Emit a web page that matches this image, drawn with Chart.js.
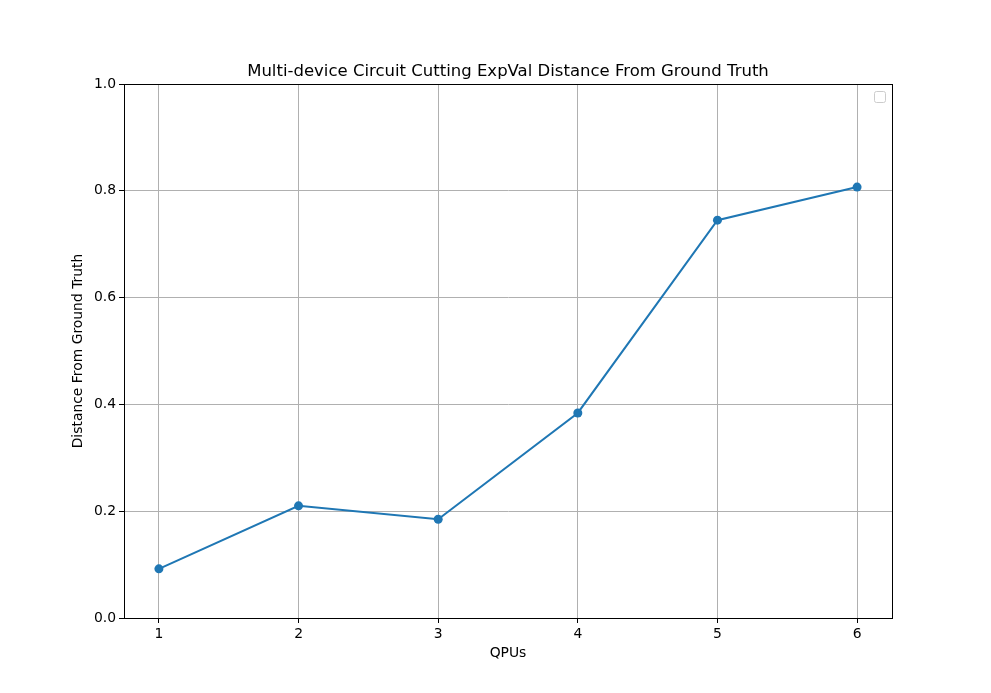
<!DOCTYPE html>
<html>
<head>
<meta charset="utf-8">
<script src="https://cdn.jsdelivr.net/npm/chart.js"></script>
<style>
  html, body { margin: 0; padding: 0; background: #fff; }
  #wrap { width: 991px; height: 693px; }
</style>
</head>
<body>
<div id="wrap"><canvas id="chart" width="991" height="693"></canvas></div>
<script>
// values
const qpus = [1, 2, 3, 4, 5, 6];
const distances = [0.092, 0.21, 0.185, 0.384, 0.745, 0.807];
const yTicks = [0, 0.2, 0.4, 0.6, 0.8, 1.0];

const titleText = 'Multi-device Circuit Cutting ExpVal Distance From Ground Truth';
const FONT = 'DejaVu Sans';

// title, full axes box and the empty legend frame
const frame = {
    id: 'frame',
    afterDraw(chart) {
        const { ctx, chartArea: a } = chart;
        ctx.save();
        ctx.strokeStyle = '#000';
        ctx.lineWidth = 1;
        ctx.strokeRect(Math.round(a.left) + 0.5, Math.round(a.top) + 0.5,
            Math.round(a.right - a.left), Math.round(a.bottom - a.top));

        ctx.fillStyle = '#000';
        ctx.font = '16.5px "' + FONT + '"';
        ctx.textAlign = 'center';
        ctx.textBaseline = 'alphabetic';
        ctx.fillText(titleText, (a.left + a.right) / 2, a.top - 8);

        // matplotlib draws an empty legend frame when no labels exist
        const x = a.right - 18, y = a.top + 7;
        ctx.fillStyle = 'rgba(255,255,255,0.8)';
        ctx.strokeStyle = '#cccccc';
        ctx.beginPath();
        ctx.roundRect(x + 0.5, y + 0.5, 11, 11, 2);
        ctx.fill();
        ctx.stroke();
        ctx.restore();
    }
};

new Chart(document.getElementById('chart'), {
    type: 'line',
    data: {
        datasets: [{
            data: qpus.map((q, i) => ({ x: q, y: distances[i] })),
            borderColor: '#1f77b4',
            backgroundColor: '#1f77b4',
            borderWidth: 2,
            pointRadius: 4.5,
            pointHoverRadius: 4.5,
            pointBorderWidth: 0,
            tension: 0
        }]
    },
    options: {
        responsive: false,
        animation: false,
        layout: { padding: { left: 0, right: 99, top: 84, bottom: 0 } },
        plugins: { legend: { display: false }, title: { display: false }, tooltip: { enabled: false } },
        scales: {
            x: {
                type: 'linear',
                min: 0.75,
                max: 6.25,
                afterFit: s => { s.height = 75; },
                afterBuildTicks: s => { s.ticks = qpus.map(v => ({ value: v })); },
                grid: { color: '#b0b0b0', tickColor: '#000', tickLength: 5, lineWidth: 1 },
                border: { color: '#000', width: 1 },
                ticks: { color: '#000', padding: 3, font: { family: FONT, size: 13.9 }, callback: v => String(v) },
                title: { display: true, text: 'QPUs', color: '#000', font: { family: FONT, size: 13.9 }, padding: { bottom: 31 } }
            },
            y: {
                min: 0,
                max: 1,
                afterFit: s => { s.width = 124; },
                afterBuildTicks: s => { s.ticks = yTicks.map(v => ({ value: v })); },
                grid: { color: '#b0b0b0', tickColor: '#000', tickLength: 5, lineWidth: 1 },
                border: { color: '#000', width: 1 },
                ticks: { color: '#000', padding: 3, font: { family: FONT, size: 13.9 }, callback: v => v.toFixed(1) },
                title: { display: true, text: 'Distance From Ground Truth', color: '#000', font: { family: FONT, size: 13.9 }, padding: { top: 70 } }
            }
        }
    },
    plugins: [frame]
});
</script>
</body>
</html>
